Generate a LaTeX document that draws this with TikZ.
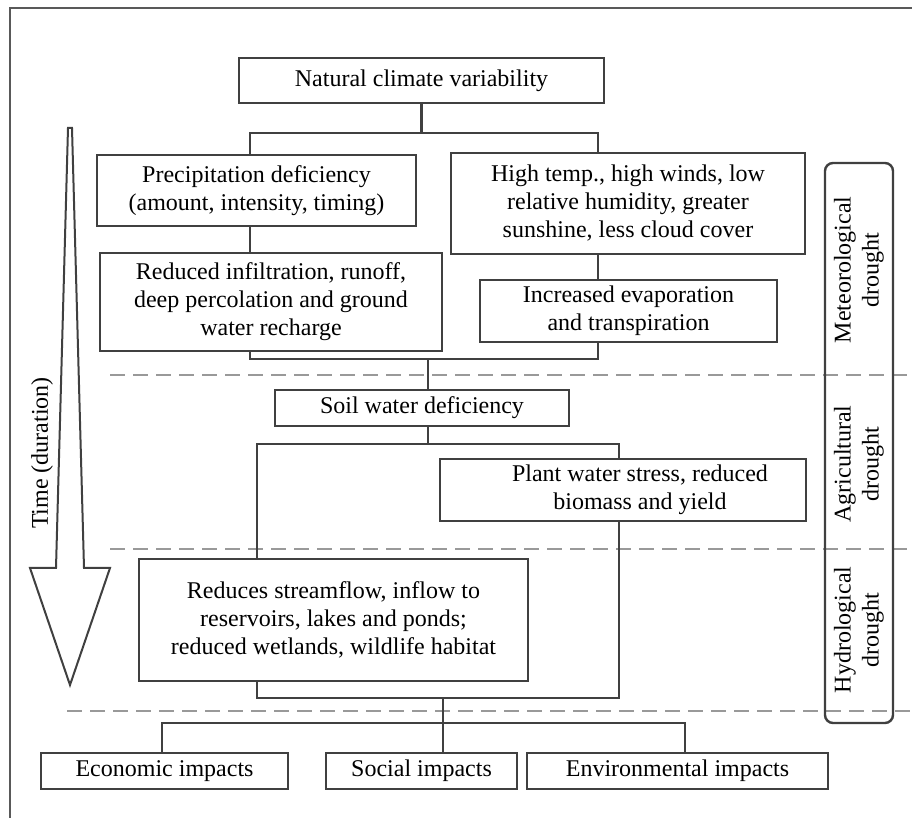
\documentclass[tikz,border=0pt]{standalone}
\usepackage{fontspec}
\setmainfont{Liberation Serif}
\begin{document}
\begin{tikzpicture}[
					x=0.5pt, y=-0.5pt,
					every node/.style={font=\fontsize{12}{14}\selectfont},
					box/.style={draw=black!75, line width=1.2pt, align=center, inner sep=0pt},
					link/.style={draw=black!75, line width=1.1pt},
					level/.style={draw=black!40, line width=1.1pt, dash pattern=on 7.5pt off 4pt}
					]

					\useasboundingbox (0,0) rectangle (912,818);

					\draw[black!65, line width=0.8pt] (10,818) -- (10,8) -- (912,8);

					\draw[level] (110,375) -- (912,375);
					\draw[level] (110,549) -- (912,549);
					\draw[level] (67,711) -- (912,711);

					\draw[black!75, line width=1pt, line join=miter] (68,128) -- (72,128) -- (84,568) -- (110,568) -- (70,685) -- (30,568) -- (56,568) -- cycle;
					\node[rotate=90] (time) at (42,453) {Time (duration)};

					\node[box, minimum width=182.5pt, minimum height=22.5pt] (nat) at (421.5,80.5) {Natural climate variability};
					\node[box, minimum width=159.5pt, minimum height=35.5pt] (precip) at (256.5,190.5) {Precipitation deficiency\\(amount, intensity, timing)};
					\node[box, minimum width=177pt, minimum height=50.5pt] (hight) at (628,203.5) {High temp., high winds, low\\relative humidity, greater\\sunshine, less cloud cover};
					\node[box, minimum width=171pt, minimum height=49pt] (infil) at (271,302) {Reduced infiltration, runoff,\\deep percolation and ground\\water recharge};
					\node[box, minimum width=148.5pt, minimum height=31pt] (evap) at (628.5,311) {Increased evaporation\\and transpiration};
					\node[box, minimum width=147pt, minimum height=18pt] (soil) at (422,408) {Soil water deficiency};
					\node[box, minimum width=183pt, minimum height=31pt] (plant) at (623,490) {\hspace*{17pt}Plant water stress, reduced\\\hspace*{17pt}biomass and yield};
					\node[box, minimum width=194.5pt, minimum height=61pt] (hydro) at (333.5,620) {Reduces streamflow, inflow to\\reservoirs, lakes and ponds;\\reduced wetlands, wildlife habitat};
					\node[box, minimum width=123.5pt, minimum height=18pt] (econ) at (164.5,771) {Economic impacts};
					\node[box, minimum width=95.5pt, minimum height=18pt] (social) at (421.5,771) {Social impacts};
					\node[box, minimum width=150.5pt, minimum height=18pt] (env) at (677.5,771) {Environmental impacts};

					\node[box, rounded corners=4pt, minimum width=34pt, minimum height=280pt] (strip) at (859,443) {};
					\node[rotate=90, align=center] (meteo) at (859,270) {Meteorological\\drought};
					\node[rotate=90, align=center] (agri) at (859,464) {Agricultural\\drought};
					\node[rotate=90, align=center] (hydrolab) at (859,630) {Hydrological\\drought};

					\coordinate (t1) at (250,133);
					\coordinate (t2) at (598,133);
					\coordinate (m1) at (250,359);
					\coordinate (m2) at (598,359);
					\coordinate (m3) at (428,359);
					\coordinate (s0) at (428,444);
					\coordinate (s1) at (257,444);
					\coordinate (s2) at (619,444);
					\coordinate (b0) at (443,698);
					\coordinate (b1) at (257,698);
					\coordinate (b2) at (619,698);
					\coordinate (i1) at (162,723);
					\coordinate (i2) at (685,723);

					\draw[link] (nat.south) -- (nat.south |- t1);
					\draw[link] (t1 |- precip.north) -- (t1) -- (t2) -- (t2 |- hight.north);
					\draw[link] (t1 |- precip.south) -- (t1 |- infil.north);
					\draw[link] (t2 |- hight.south) -- (t2 |- evap.north);
					\draw[link] (m1 |- infil.south) -- (m1) -- (m2) -- (m2 |- evap.south);
					\draw[link] (m3) -- (m3 |- soil.north);
					\draw[link] (m3 |- soil.south) -- (s0);
					\draw[link] (s1 |- hydro.north) -- (s1) -- (s2) -- (s2 |- plant.north);
					\draw[link] (b1 |- hydro.south) -- (b1) -- (b2) -- (b2 |- plant.south);
					\draw[link] (b0) -- (b0 |- social.north);
					\draw[link] (i1 |- econ.north) -- (i1) -- (i2) -- (i2 |- env.north);

				\end{tikzpicture}
\end{document}
